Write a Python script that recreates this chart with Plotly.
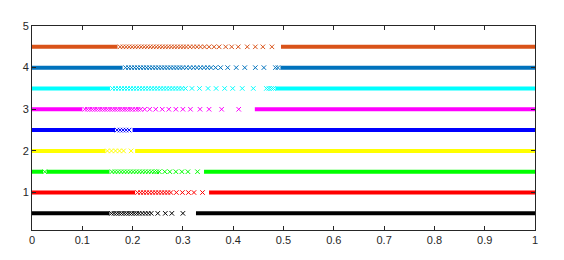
import plotly.graph_objects as go

# ---- data ----
levels = [0.5, 1.0, 1.5, 2.0, 2.5, 3.0, 3.5, 4.0, 4.5]
colors = ["#000000", "#FF0000", "#00FF00", "#FFFF00", "#0000FF",
          "#FF00FF", "#00FFFF", "#0072BD", "#D95319"]

# dense (solid-looking) runs of markers: start / end
black_seg_start = [0.0, 0.326]
black_seg_end = [0.154, 1.0]
black_x = [0.158, 0.163, 0.168, 0.173, 0.178, 0.183, 0.188, 0.193, 0.198, 0.203,
           0.208, 0.213, 0.219, 0.225, 0.231, 0.237, 0.250, 0.265, 0.278, 0.300]

red_seg_start = [0.0, 0.352]
red_seg_end = [0.205, 1.0]
red_x = [0.210, 0.216, 0.222, 0.228, 0.234, 0.240, 0.246, 0.252, 0.258, 0.264,
         0.270, 0.276, 0.287, 0.299, 0.311, 0.322, 0.339]

green_seg_start = [0.0, 0.029, 0.342]
green_seg_end = [0.022, 0.154, 1.0]
green_x = [0.0255, 0.159, 0.165, 0.171, 0.177, 0.183, 0.189, 0.195, 0.201, 0.207,
           0.213, 0.219, 0.225, 0.231, 0.237, 0.243, 0.248, 0.253, 0.264, 0.274,
           0.286, 0.298, 0.310, 0.329]

yellow_seg_start = [0.0, 0.205]
yellow_seg_end = [0.146, 1.0]
yellow_x = [0.150, 0.158, 0.166, 0.174, 0.182, 0.197]

blue_seg_start = [0.0, 0.200]
blue_seg_end = [0.165, 1.0]
blue_x = [0.169, 0.175, 0.181, 0.187, 0.193]

magenta_seg_start = [0.0, 0.443]
magenta_seg_end = [0.100, 1.0]
magenta_x = [0.105, 0.110, 0.115, 0.120, 0.125, 0.130, 0.135, 0.140, 0.145, 0.150,
             0.155, 0.160, 0.165, 0.170, 0.175, 0.180, 0.185, 0.190, 0.195, 0.200,
             0.206, 0.211, 0.216, 0.224, 0.234, 0.246, 0.259, 0.272, 0.286, 0.300,
             0.315, 0.334, 0.352, 0.377, 0.411]

cyan_seg_start = [0.0, 0.484]
cyan_seg_end = [0.155, 1.0]
cyan_x = [0.160, 0.166, 0.172, 0.178, 0.184, 0.190, 0.196, 0.202, 0.208, 0.214,
          0.220, 0.226, 0.232, 0.238, 0.244, 0.250, 0.256, 0.262, 0.268, 0.274,
          0.280, 0.286, 0.292, 0.298, 0.305, 0.318, 0.333, 0.350, 0.366, 0.383,
          0.399, 0.418, 0.440, 0.466, 0.471, 0.476, 0.480]

dblue_seg_start = [0.0, 0.494]
dblue_seg_end = [0.180, 1.0]
dblue_x = [0.186, 0.192, 0.198, 0.204, 0.210, 0.216, 0.222, 0.228, 0.234, 0.240,
           0.246, 0.252, 0.258, 0.264, 0.270, 0.276, 0.282, 0.288, 0.294, 0.300,
           0.307, 0.314, 0.321, 0.328, 0.335, 0.342, 0.349, 0.356, 0.365, 0.375,
           0.389, 0.406, 0.423, 0.444, 0.461, 0.484, 0.489]

orange_seg_start = [0.0, 0.495]
orange_seg_end = [0.170, 1.0]
orange_x = [0.175, 0.181, 0.187, 0.193, 0.199, 0.205, 0.211, 0.217, 0.223, 0.229,
            0.235, 0.241, 0.247, 0.253, 0.259, 0.265, 0.271, 0.277, 0.283, 0.289,
            0.295, 0.301, 0.307, 0.314, 0.321, 0.328, 0.335, 0.343, 0.352, 0.362,
            0.372, 0.385, 0.397, 0.410, 0.428, 0.444, 0.459, 0.477]

x_ticks = [0, 0.1, 0.2, 0.3, 0.4, 0.5, 0.6, 0.7, 0.8, 0.9, 1]
y_ticks = [1, 2, 3, 4, 5]

series = [
    (black_seg_start, black_seg_end, black_x),
    (red_seg_start, red_seg_end, red_x),
    (green_seg_start, green_seg_end, green_x),
    (yellow_seg_start, yellow_seg_end, yellow_x),
    (blue_seg_start, blue_seg_end, blue_x),
    (magenta_seg_start, magenta_seg_end, magenta_x),
    (cyan_seg_start, cyan_seg_end, cyan_x),
    (dblue_seg_start, dblue_seg_end, dblue_x),
    (orange_seg_start, orange_seg_end, orange_x),
]

fig = go.Figure()
for lvl, col, (ss, se, xs) in zip(levels, colors, series):
    sx, sy = [], []
    for a, b in zip(ss, se):
        sx += [a, b, None]
        sy += [lvl, lvl, None]
    fig.add_trace(go.Scatter(x=sx, y=sy, mode="lines",
                             line=dict(color=col, width=4),
                             showlegend=False, hoverinfo="skip"))
    fig.add_trace(go.Scatter(x=xs, y=[lvl] * len(xs), mode="markers",
                             marker=dict(symbol="x-thin", size=4.5,
                                         line=dict(color=col, width=1)),
                             showlegend=False, hoverinfo="skip"))

axis_col = "#262626"
# the page body adds an 8px offset, so margins are reduced accordingly
fig.update_layout(
    width=564, height=260,
    margin=dict(l=24, r=37, t=18, b=38),
    paper_bgcolor="white", plot_bgcolor="white",
    font=dict(family="Liberation Sans, Arial, sans-serif", size=11, color=axis_col),
    xaxis=dict(range=[0, 1], tickvals=x_ticks, ticktext=[str(v) for v in x_ticks],
               ticks="inside", ticklen=4, tickcolor=axis_col, automargin=False,
               showline=True, linecolor=axis_col, linewidth=1, mirror="ticks",
               showgrid=False, zeroline=False),
    yaxis=dict(range=[0.1, 5], tickvals=y_ticks, ticktext=[str(v) for v in y_ticks],
               ticks="inside", ticklen=4, tickcolor=axis_col, automargin=False,
               showline=True, linecolor=axis_col, linewidth=1, mirror="ticks",
               showgrid=False, zeroline=False),
)

fig.write_html("out.html")
